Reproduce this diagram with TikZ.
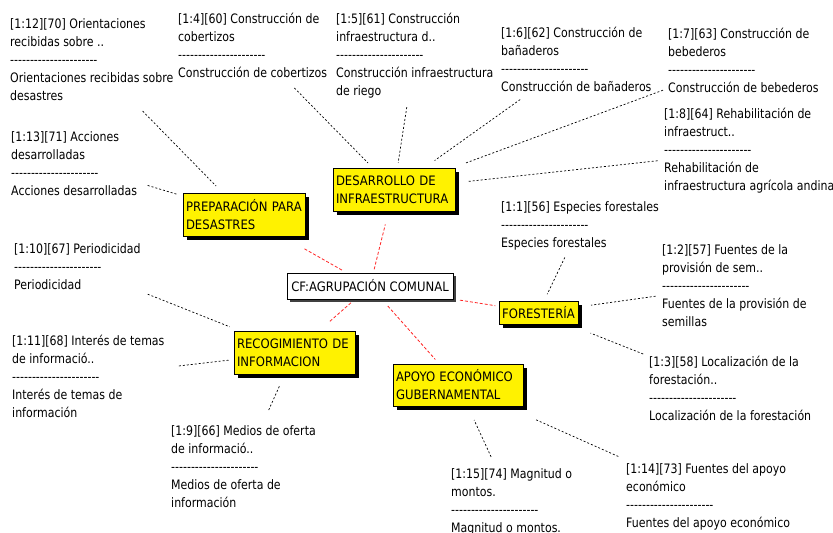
\documentclass[tikz,border=0pt]{standalone}
\usepackage{fontspec}
\usetikzlibrary{shadows,calc}
\newfontfamily\tfam{DejaVu Sans}[FakeStretch=0.845]
\newfontfamily\cfam{DejaVu Sans}[FakeStretch=0.896]
\newcommand{\tf}{\tfam\fontsize{13}{18}\selectfont}
\newcommand{\cf}{\cfam\fontsize{13}{18}\selectfont}
\newcommand{\dl}{----------------------}
\tikzset{
  txt/.style={font=\tf, align=left, inner sep=0pt, anchor=north west},
  cat/.style={font=\cf, draw=black, fill=yellow, line width=0.8pt, inner xsep=3pt, inner ysep=0pt, align=left,
    drop shadow={shadow xshift=4pt, shadow yshift=-4pt, opacity=1, fill=black}},
  cfbox/.style={font=\cf, draw=black, fill=white, line width=0.8pt, inner sep=0pt, align=center,
    drop shadow={shadow xshift=3pt, shadow yshift=-3pt, opacity=1, fill=black!75}},
  bl/.style={dash pattern=on 2pt off 2pt, line width=0.7pt, black},
  rd/.style={dash pattern=on 3pt off 2pt, line width=0.8pt, red!85}
}
\begin{document}
\begin{tikzpicture}[x=1pt,y=-1pt]
\useasboundingbox (0,0) rectangle (833,533);
\fill[white] (0,0) rectangle (833,533);
% text blocks
\node[txt] (a12) at (10,18) {[1:12][70] Orientaciones\\recibidas sobre ..\\\dl\\Orientaciones recibidas sobre\\desastres};
\node[txt] (a13) at (11,131) {[1:13][71] Acciones\\desarrolladas\\\dl\\Acciones desarrolladas};
\node[txt] (a4) at (178,13) {[1:4][60] Construcción de\\cobertizos\\\dl\\Construcción de cobertizos};
\node[txt] (a5) at (336,13) {[1:5][61] Construcción\\infraestructura d..\\\dl\\Construcción infraestructura\\de riego};
\node[txt] (a6) at (501,27) {[1:6][62] Construcción de\\bañaderos\\\dl\\Construcción de bañaderos};
\node[txt] (a7) at (668,28) {[1:7][63] Construcción de\\bebederos\\\dl\\Construcción de bebederos};
\node[txt] (a8) at (664,108) {[1:8][64] Rehabilitación de\\infraestruct..\\\dl\\Rehabilitación de\\infraestructura agrícola andina};
\node[txt] (a1) at (501,201) {[1:1][56] Especies forestales\\\dl\\Especies forestales};
\node[txt] (a2) at (662,244) {[1:2][57] Fuentes de la\\provisión de sem..\\\dl\\Fuentes de la provisión de\\semillas};
\node[txt] (a3) at (649,356) {[1:3][58] Localización de la\\forestación..\\\dl\\Localización de la forestación};
\node[txt] (a10) at (14,243) {[1:10][67] Periodicidad\\\dl\\Periodicidad};
\node[txt] (a11) at (12,335) {[1:11][68] Interés de temas\\de informació..\\\dl\\Interés de temas de\\información};
\node[txt] (a9) at (171,425) {[1:9][66] Medios de oferta\\de informació..\\\dl\\Medios de oferta de\\información};
\node[txt] (a15) at (451,468) {[1:15][74] Magnitud o\\montos.\\\dl\\Magnitud o montos.};
\node[txt] (a14) at (626,463) {[1:14][73] Fuentes del apoyo\\económico\\\dl\\Fuentes del apoyo económico};
% category boxes
\node[cat, text width=116pt, minimum height=43pt] (prep) at (244,214.5) {PREPARACIÓN PARA\\DESASTRES};
\node[cat, text width=116pt, minimum height=43pt] (desa) at (394,189.5) {DESARROLLO DE\\INFRAESTRUCTURA};
\node[cat, text width=115pt, minimum height=43pt] (recog) at (294.5,352.5) {RECOGIMIENTO DE\\INFORMACION};
\node[cat, text width=124pt, minimum height=42pt] (apoyo) at (458,385) {APOYO ECONÓMICO\\GUBERNAMENTAL};
\node[cat, align=center, minimum width=79pt, minimum height=23pt] (fore) at (538.5,312.5) {FORESTERÍA};
\node[cfbox, minimum width=166pt, minimum height=26pt] (cf) at (370,286) {CF:AGRUPACIÓN COMUNAL};
% red connectors
\draw[rd] ($(cf)!0.223!(prep)$) -- ($(cf)!0.532!(prep)$);
\draw[rd] ($(cf)!0.173!(desa)$) -- ($(cf)!0.639!(desa)$);
\draw[rd] ($(cf)!0.534!(fore)$) -- ($(cf)!0.744!(fore)$);
\draw[rd] ($(cf)!0.252!(recog)$) -- ($(cf)!0.546!(recog)$);
\draw[rd] ($(cf)!0.202!(apoyo)$) -- ($(cf)!0.742!(apoyo)$);
% black connectors
\draw[bl] ($(a12)!0.334!(prep)$) -- ($(a12)!0.817!(prep)$);
\draw[bl] ($(a13)!0.433!(prep)$) -- ($(a13)!0.603!(prep)$);
\draw[bl] ($(a4)!0.295!(desa)$) -- ($(a4)!0.816!(desa)$);
\draw[bl] ($(a5)!0.384!(desa)$) -- ($(a5)!0.800!(desa)$);
\draw[bl] ($(a6)!0.308!(desa)$) -- ($(a6)!0.777!(desa)$);
\draw[bl] ($(a7)!0.230!(desa)$) -- ($(a7)!0.794!(desa)$);
\draw[bl] ($(a8)!0.258!(desa)$) -- ($(a8)!0.795!(desa)$);
\draw[bl] ($(a1)!0.367!(fore)$) -- ($(a1)!0.790!(fore)$);
\draw[bl] ($(a2)!0.402!(fore)$) -- ($(a2)!0.732!(fore)$);
\draw[bl] ($(a3)!0.454!(fore)$) -- ($(a3)!0.729!(fore)$);
\draw[bl] ($(a10)!0.324!(recog)$) -- ($(a10)!0.702!(recog)$);
\draw[bl] ($(a11)!0.439!(recog)$) -- ($(a11)!0.688!(recog)$);
\draw[bl] ($(a9)!0.494!(recog)$) -- ($(a9)!0.713!(recog)$);
\draw[bl] ($(a15)!0.383!(apoyo)$) -- ($(a15)!0.700!(apoyo)$);
\draw[bl] ($(a14)!0.359!(apoyo)$) -- ($(a14)!0.693!(apoyo)$);
\end{tikzpicture}
\end{document}
